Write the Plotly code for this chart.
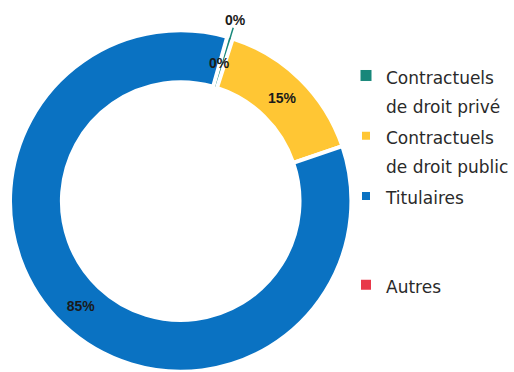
import math
import plotly.graph_objects as go

# Répartition des effectifs par statut (en %)
statuts = [
    "Contractuels<br>de droit privé",
    "Contractuels<br>de droit public",
    "Titulaires",
    "Autres",
]
parts = [0.49, 14.86, 84.6, 0.05]
couleurs = ["#17877A", "#FFC634", "#0A72C2", "#E8394A"]
bordures = [1, 4, 4, 2]

# Étiquettes des très petites parts placées à la main (angle calculé depuis les valeurs)
etiquettes_annexes = {0: 1.105, 3: 0.84}  # indice de la part -> rayon relatif
parts_avec_trait = {0}  # trait de rappel entre l'anneau et l'étiquette extérieure

W, H = 514, 372
DOM_X = [0.0195, 0.685]
DOM_Y = [0.0, 0.919]
ROTATION = 16
TROU = 0.696

positions_texte = ["none" if i in etiquettes_annexes else "inside" for i in range(len(parts))]

# libellés de légende : lignes vides ajoutées après « Titulaires » pour aérer la légende
legendes = [
    f"<span style='font-size:17px'>{s}</span>" + ("<br> <br> " if s == "Titulaires" else "")
    for s in statuts
]

fig = go.Figure(
    go.Pie(
        labels=legendes,
        values=parts,
        hole=TROU,
        sort=False,
        direction="clockwise",
        rotation=ROTATION,
        marker=dict(colors=couleurs, line=dict(color="white", width=bordures)),
        texttemplate="%{percent:.0%}",
        textposition=positions_texte,
        insidetextorientation="horizontal",
        textfont=dict(family="Liberation Sans", size=14, color="#1a1a1a", weight="bold"),
        domain=dict(x=DOM_X, y=DOM_Y),
        hoverinfo="skip",
    )
)

# position du centre et rayon de l'anneau en pixels
cx = (DOM_X[0] + DOM_X[1]) / 2 * W
cy = (1 - (DOM_Y[0] + DOM_Y[1]) / 2) * H
rayon = min((DOM_X[1] - DOM_X[0]) * W, (DOM_Y[1] - DOM_Y[0]) * H) / 2
total = sum(parts)


def vers_papier(r, angle):
    px = cx + r * math.sin(angle)
    py = cy - r * math.cos(angle)
    return px / W, 1 - py / H


annotations = []
traits = []
cumul = 0.0
for i, v in enumerate(parts):
    if i in etiquettes_annexes:
        angle = math.radians(ROTATION + 360 * (cumul + v / 2) / total)
        x, y = vers_papier(rayon * etiquettes_annexes[i], angle)
        annotations.append(
            dict(
                x=x,
                y=y,
                xref="paper",
                yref="paper",
                xanchor="center",
                yanchor="middle",
                text=f"{v / total:.0%}",
                showarrow=False,
                font=dict(family="Liberation Sans", size=14, color="#1a1a1a", weight="bold"),
            )
        )
        if i in parts_avec_trait:
            x0, y0 = vers_papier(rayon * 0.99, angle)
            x1, y1 = vers_papier(rayon * 1.06, angle)
            traits.append(
                dict(
                    type="line",
                    xref="paper",
                    yref="paper",
                    x0=x0,
                    y0=y0,
                    x1=x1,
                    y1=y1,
                    line=dict(color=couleurs[i], width=1.5),
                )
            )
    cumul += v

fig.update_layout(
    width=W,
    height=H,
    margin=dict(l=0, r=0, t=0, b=0),
    paper_bgcolor="white",
    plot_bgcolor="white",
    uniformtext=dict(mode="show", minsize=14),
    annotations=annotations,
    shapes=traits,
    legend=dict(
        x=0.675,
        y=0.853,
        xanchor="left",
        yanchor="top",
        valign="top",
        itemwidth=30,
        bgcolor="rgba(0,0,0,0)",
        font=dict(family="DejaVu Sans", size=22, color="#2a2a2a"),
        traceorder="normal",
    ),
)

fig.write_html("out.html")
